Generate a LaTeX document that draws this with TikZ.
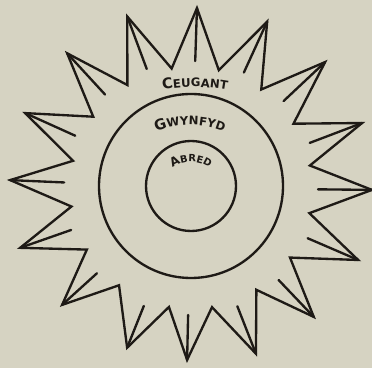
\documentclass[tikz,border=0pt]{standalone}
\usepackage{fontspec}
\setmainfont{DejaVu Sans}
\usetikzlibrary{decorations.text}

\definecolor{carta}{RGB}{214,211,194}
\definecolor{inchiostro}{RGB}{30,26,22}

\newcommand{\capgrande}{\fontsize{12.5}{13}\selectfont\bfseries}
\newcommand{\cappiccola}{\fontsize{10}{11}\selectfont\bfseries}
\newcommand{\capmedia}{\fontsize{10.5}{11}\selectfont\bfseries}
\newcommand{\capmini}{\fontsize{8.4}{9}\selectfont\bfseries}

\tikzset{
  tratto/.style={draw=inchiostro, line width=2pt, line cap=round},
  scritta/.style={decorate, decoration={text along path, text align=center, text color=inchiostro}}
}

\begin{document}
\begin{tikzpicture}[x=0.03cm, y=0.03cm]
% =====================
% SFONDO
% =====================
\fill[carta] (0,0) rectangle (372,368);
\useasboundingbox (0,0) rectangle (372,368);

% =====================
% STELLA
% =====================
\begin{scope}[shift={(191,180)}]
\draw[tratto] (88.1:180)
  \foreach \a/\r in {65.4/183, 43.2/184, 20.8/183, -0.6/181, -23.3/182, -46.4/178,
                     -68.6/178, -91.3/172, -111.8/172, -137.8/174, -160.7/181,
                     -182.5/181, -204.3/182, -227.4/183, -249.6/183}
  { -- ({\a+11.3}:121) -- (\a:\r) }
  -- (99.2:121) -- cycle;

% raggi interni
\foreach \a/\r in {88.1/180, 65.4/183, 43.2/184, 20.8/183, -0.6/181, -23.3/182,
                   -46.4/178, -68.6/178, -91.3/172, -111.8/172, -137.8/174,
                   -160.7/181, -182.5/181, -204.3/182, -227.4/183, -249.6/183}
  \draw[tratto] (\a:\r) -- (\a:127);
\end{scope}

% =====================
% CERCHI
% =====================
\draw[tratto] (191,182) circle[radius=92];
\draw[tratto] (191,182) circle[radius=45];

% =====================
% SCRITTE
% =====================
\path[scritta, decoration={text={|\capgrande|C|\cappiccola|EUGANT}}]
  (195,101) ++(110:180) arc[start angle=110, end angle=70, radius=180];
\path[scritta, decoration={text={|\capgrande|G|\cappiccola|WYNFYD}}]
  (190,153) ++(120:90) arc[start angle=120, end angle=60, radius=90];
\path[scritta, decoration={text={|\capmedia|A|\capmini|BRED}}]
  (191,174) ++(175:32) arc[start angle=175, end angle=5, radius=32];

\end{tikzpicture}
\end{document}
